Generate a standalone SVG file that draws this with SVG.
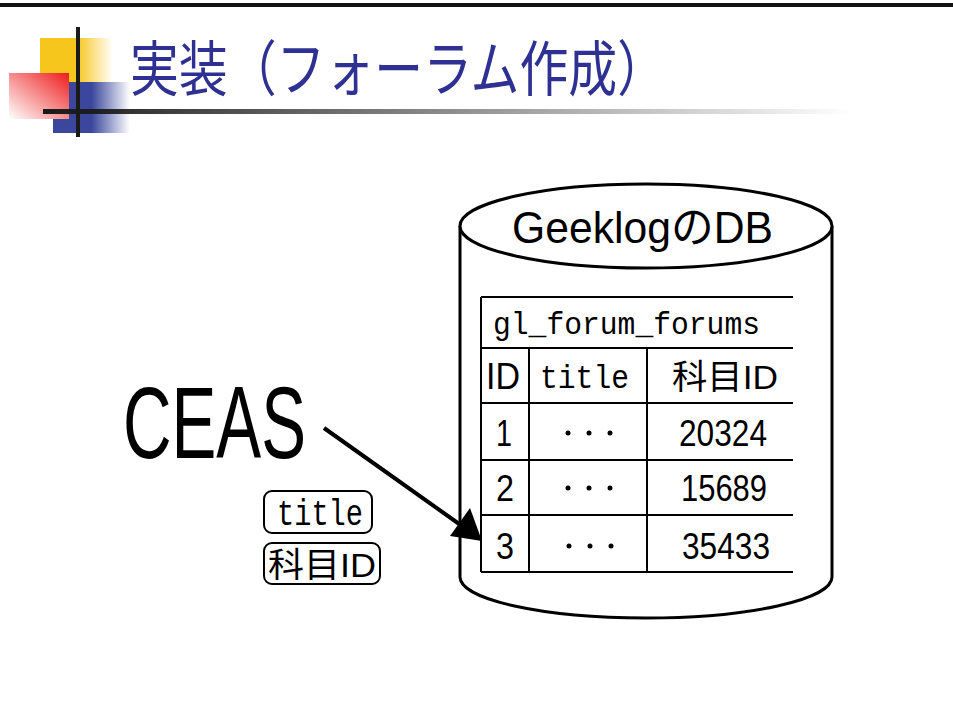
<svg xmlns="http://www.w3.org/2000/svg" width="953" height="720" viewBox="0 0 953 720">
<defs>
<linearGradient id="gy" x1="0" y1="0" x2="1" y2="0"><stop offset="0" stop-color="#F6C61C"/><stop offset="0.5" stop-color="#F6C61C"/><stop offset="1" stop-color="#F6C61C" stop-opacity="0"/></linearGradient>
<linearGradient id="gb" x1="0" y1="0" x2="1" y2="0"><stop offset="0" stop-color="#3A479C"/><stop offset="0.5" stop-color="#3A479C"/><stop offset="1" stop-color="#3A479C" stop-opacity="0"/></linearGradient>
<linearGradient id="gr" x1="1" y1="0" x2="0" y2="1"><stop offset="0" stop-color="#EE1C1C"/><stop offset="1" stop-color="#FFFFFF"/></linearGradient>
<linearGradient id="gl" x1="0" y1="0" x2="1" y2="0"><stop offset="0" stop-color="#1A1A1A"/><stop offset="1" stop-color="#1A1A1A" stop-opacity="0"/></linearGradient>
<style>
.m{font-family:"Liberation Sans","Noto Sans CJK JP",sans-serif;fill:#000}
.mono{font-family:"Liberation Mono",monospace;fill:#000}
.cjk{font-family:"Noto Sans CJK JP",sans-serif;fill:#000}
.ln{stroke:#000;stroke-width:2;fill:none}
</style>
</defs>
<rect x="0" y="3" width="953" height="4" fill="#111"/>
<g id="deco">
<rect x="40" y="38" width="73" height="44" fill="url(#gy)"/>
<rect x="53" y="82" width="77" height="51" fill="url(#gb)"/>
<rect x="9" y="73" width="60" height="46" fill="url(#gr)"/>
<rect x="76" y="27" width="4" height="110" fill="#1A1A1A"/>
<rect x="43" y="109" width="810" height="5" fill="url(#gl)"/>
</g>
<text x="130" y="91" font-family="'Noto Sans CJK JP',sans-serif" font-size="60" fill="#2E3192" textLength="536" lengthAdjust="spacingAndGlyphs">実装（フォーラム作成）</text>
<g id="db">
<path d="M460,226 L460,577 A186,41 0 0 0 832,577 L832,226" stroke="#000" stroke-width="3" fill="#fff"/>
<ellipse cx="646" cy="226" rx="186" ry="42" stroke="#000" stroke-width="3" fill="#fff"/>
<text class="m" x="512" y="243" font-size="44" textLength="261" lengthAdjust="spacingAndGlyphs">Geeklog<tspan class="cjk">の</tspan>DB</text>
</g>
<g id="table">
<path class="ln" d="M481,297 H793 M481,348 H793 M481,403 H793 M481,460 H793 M481,515 H793 M481,572 H793 M481,297 V572 M529,348 V572 M647,348 V572"/>
<text class="mono" x="493" y="334" font-size="32" textLength="267" lengthAdjust="spacingAndGlyphs">gl_forum_forums</text>
<text class="m" x="486" y="389" font-size="36" textLength="34" lengthAdjust="spacingAndGlyphs">ID</text>
<text class="mono" x="540" y="388" font-size="34" textLength="89" lengthAdjust="spacingAndGlyphs">title</text>
<text class="cjk" x="672" y="389" font-size="34" textLength="106" lengthAdjust="spacingAndGlyphs">科目<tspan font-family="'Liberation Sans',sans-serif">ID</tspan></text>
<text class="m" x="496" y="446" font-size="36" textLength="16" lengthAdjust="spacingAndGlyphs">1</text>
<text class="m" x="496" y="501" font-size="36" textLength="18" lengthAdjust="spacingAndGlyphs">2</text>
<text class="m" x="496" y="559" font-size="36" textLength="18" lengthAdjust="spacingAndGlyphs">3</text>
<g fill="#000"><circle cx="568" cy="433" r="2.5"/><circle cx="589" cy="433" r="2.5"/><circle cx="610" cy="433" r="2.5"/>
<circle cx="568" cy="488" r="2.5"/><circle cx="589" cy="488" r="2.5"/><circle cx="610" cy="488" r="2.5"/>
<circle cx="569" cy="546" r="2.5"/><circle cx="590" cy="546" r="2.5"/><circle cx="611" cy="546" r="2.5"/></g>
<text class="m" x="679" y="446" font-size="36" textLength="88" lengthAdjust="spacingAndGlyphs">20324</text>
<text class="m" x="681" y="501" font-size="36" textLength="86" lengthAdjust="spacingAndGlyphs">15689</text>
<text class="m" x="682" y="559" font-size="36" textLength="88" lengthAdjust="spacingAndGlyphs">35433</text>
</g>
<g id="ceas">
<text class="m" x="123" y="458" font-size="102" textLength="183" lengthAdjust="spacingAndGlyphs">CEAS</text>
</g>
<g id="labels">
<rect x="264" y="491" width="108" height="42" rx="8" stroke="#000" stroke-width="2" fill="#fff"/>
<text class="mono" x="277" y="525" font-size="36" textLength="86" lengthAdjust="spacingAndGlyphs">title</text>
<rect x="264" y="543" width="116" height="41" rx="8" stroke="#000" stroke-width="2" fill="#fff"/>
<text class="cjk" x="268" y="577" font-size="34" textLength="108" lengthAdjust="spacingAndGlyphs">科目<tspan font-family="'Liberation Sans',sans-serif">ID</tspan></text>
</g>
<g id="connectors">
<line x1="324" y1="428" x2="462" y2="526" stroke="#000" stroke-width="4"/>
<polygon points="482,541 450,536 470,508" fill="#000"/>
</g>
</svg>
